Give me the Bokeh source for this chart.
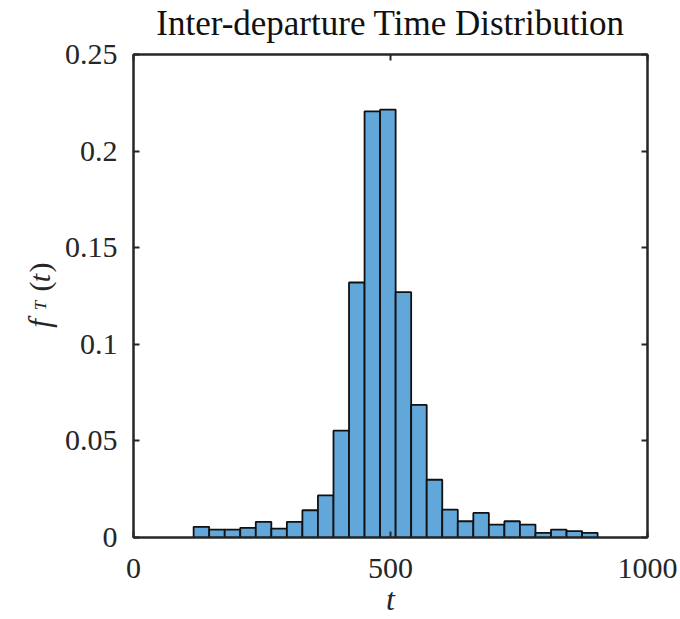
import numpy as np
from bokeh.plotting import figure
from bokeh.layouts import row
from bokeh.models import ColumnDataSource, LinearAxis, FixedTicker, Range1d
from bokeh.core.properties import value
from bokeh.embed import file_html
from bokeh.resources import INLINE

# ---- data ----
title_text = "Inter-departure Time Distribution"
bin_start = 117.0
bin_width = 30.23
probabilities = [0.0055, 0.0041, 0.0041, 0.0050, 0.0081, 0.0046, 0.0081, 0.0141,
                 0.0218, 0.0553, 0.1320, 0.2206, 0.2215, 0.1270, 0.0686, 0.0299,
                 0.0144, 0.0084, 0.0127, 0.0067, 0.0084, 0.0067, 0.0024, 0.0041,
                 0.0033, 0.0024]
x_ticks = [0, 500, 1000]
x_tick_labels = ["0", "500", "1000"]
y_ticks = [0, 0.05, 0.1, 0.15, 0.2, 0.25]
y_tick_labels = ["0", "0.05", "0.1", "0.15", "0.2", "0.25"]
x_label = "t"
# y label  f_T(t)  as (text, style, size) pieces
y_label_pieces = [("f", "italic", "31px"), ("T", "italic", "17px"), ("(", "normal", "30px"),
                  ("t", "italic", "30px"), (")", "normal", "30px")]

FONT = "Liberation Serif"
AX = "#262626"

n = len(probabilities)
lefts = bin_start + bin_width * np.arange(n)
source = ColumnDataSource(dict(left=lefts, right=lefts + bin_width,
                               top=probabilities, bottom=[0.0] * n))

W, H = 680, 619
FRAME_L, FRAME_R, FRAME_T, FRAME_B = 133, 647, 53, 538
YLAB_W = 60

# ---- y-axis label strip (same vertical borders as the main plot) ----
ylab = figure(width=YLAB_W, height=H, x_range=Range1d(0, YLAB_W),
              y_range=Range1d(0, FRAME_B - FRAME_T),
              x_axis_type=None, y_axis_type=None, output_backend="svg",
              toolbar_location=None, title=None,
              min_border_left=0, min_border_right=0,
              min_border_top=FRAME_T, min_border_bottom=H - FRAME_B)
ylab.grid.visible = False
ylab.outline_line_color = None
ylab.background_fill_color = "white"
ylab.border_fill_color = "white"
piece_pos = [(39, 323), (40, 305), (39, 286), (39, 277.5), (39, 267)]  # screen px
for (txt, style, size), (sx, sy) in zip(y_label_pieces, piece_pos):
    ylab.text(x=[sx], y=[FRAME_B - sy], text=[txt], angle=np.pi / 2, text_align="center",
              text_baseline="alphabetic", text_font=value(FONT), text_font_style=style,
              text_font_size=size, text_color=AX)

# ---- main histogram ----
p = figure(width=W - YLAB_W, height=H, x_range=Range1d(0, 1000), y_range=Range1d(0, 0.25),
           output_backend="svg", toolbar_location=None, title=None,
           min_border_left=FRAME_L - YLAB_W, min_border_right=W - FRAME_R,
           min_border_top=FRAME_T, min_border_bottom=H - FRAME_B)
p.grid.visible = False
p.outline_line_color = AX
p.outline_line_width = 2
p.background_fill_color = "white"
p.border_fill_color = "white"

p.quad(left="left", right="right", top="top", bottom="bottom", source=source,
       fill_color="#62A7D9", line_color="#111111", line_width=1.8)

def style_axis(ax, ticks, labels, show_labels=True):
    ax.ticker = FixedTicker(ticks=ticks)
    ax.major_label_overrides = {t: l for t, l in zip(ticks, labels)}
    ax.major_tick_in = 6
    ax.major_tick_out = 0
    ax.minor_tick_line_color = None
    ax.major_tick_line_color = AX
    ax.major_tick_line_width = 2
    ax.axis_line_color = AX
    ax.axis_line_width = 2
    ax.major_label_text_font = FONT
    ax.major_label_text_font_size = "30px"
    if show_labels:
        ax.major_label_text_color = AX
    else:
        ax.major_label_text_color = None
        ax.major_label_standoff = 0

style_axis(p.xaxis[0], x_ticks, x_tick_labels)
p.xaxis[0].major_label_standoff = 21
p.xaxis[0].axis_label = x_label
p.xaxis[0].axis_label_text_font = FONT
p.xaxis[0].axis_label_text_font_style = "italic"
p.xaxis[0].axis_label_text_font_size = "32px"
p.xaxis[0].axis_label_text_color = AX
p.xaxis[0].axis_label_text_line_height = 1.0
p.xaxis[0].axis_label_standoff = 0

style_axis(p.yaxis[0], y_ticks, y_tick_labels)
p.yaxis[0].major_label_standoff = 16

# top axis: mirrored ticks, and the chart title as its label
top_ax = LinearAxis()
style_axis(top_ax, x_ticks, x_tick_labels, show_labels=False)
top_ax.axis_label = title_text
top_ax.axis_label_text_font = FONT
top_ax.axis_label_text_font_style = "normal"
top_ax.axis_label_text_font_size = "35px"
top_ax.axis_label_text_color = "#111111"
top_ax.axis_label_standoff = 12
p.add_layout(top_ax, "above")

right_ax = LinearAxis()
style_axis(right_ax, y_ticks, y_tick_labels, show_labels=False)
p.add_layout(right_ax, "right")

layout = row(ylab, p, spacing=0)
open("out.html", "w").write(file_html(layout, INLINE))
